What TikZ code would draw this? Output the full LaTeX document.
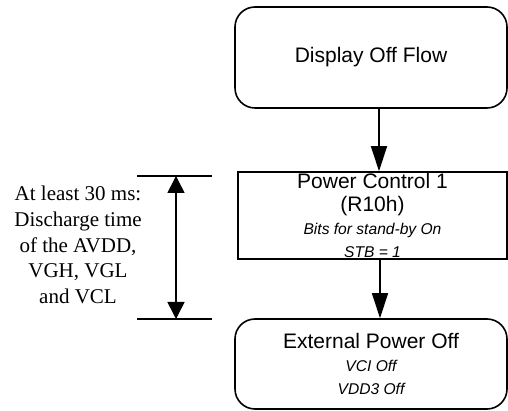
\documentclass[tikz,border=0pt]{standalone}
\usepackage{fontspec}
\setmainfont{Liberation Serif}
\setsansfont{Liberation Sans}
\usetikzlibrary{arrows.meta,positioning}
\tikzset{
  flowtext/.style={font=\sffamily\fontsize{10.5}{11.5}\selectfont},
  endbox/.style={draw,thick,rounded corners=10pt,flowtext,align=center,inner sep=0pt},
  procbox/.style={draw,thick,flowtext,align=center,inner sep=0pt},
  flowarrow/.style={-{Triangle[length=12.5pt,width=8pt]},thick},
  spanarrow/.style={-{Triangle[length=8.5pt,width=8.5pt]},thick},
  dimline/.style={thick},
}
\newcommand{\subline}[1]{{\sffamily\itshape\fontsize{7.8}{10}\selectfont #1}}
\begin{document}
\begin{tikzpicture}[x=0.5pt,y=0.5pt]
  \useasboundingbox (0,0) rectangle (508,411);
  % flow boxes
  \node[endbox,minimum width=136pt,minimum height=50.5pt] (dispoff) at (371,353.5) {Display Off Flow};
  \node[procbox,minimum width=134.5pt,minimum height=43.5pt] (pwrctl) at (372.5,195.5)
    {Power Control 1\\(R10h)\\\subline{Bits for stand-by On}\\\subline{STB = 1}};
  \node[endbox,minimum width=136pt,minimum height=45pt] (extoff) at (371,47)
    {External Power Off\\\subline{VCI Off}\\\subline{VDD3 Off}};
  % arrows
  \draw[flowarrow] (dispoff.south -| 379,0) -- (pwrctl.north -| 379,0);
  \draw[flowarrow] (pwrctl.south -| 380,0) -- (extoff.north -| 380,0);
  % discharge time span
  \coordinate (spanmid) at (176,163);
  \coordinate (spantop) at (176,235);
  \coordinate (spanbot) at (176,92);
  \draw[dimline] (spantop -| 137,0) -- (spantop -| 212,0);
  \draw[dimline] (spanbot -| 137,0) -- (spanbot -| 212,0);
  \draw[spanarrow] (spanmid) -- (spantop);
  \draw[spanarrow] (spanmid) -- (spanbot);
  \node[font=\fontsize{10.5}{12.8}\selectfont,align=center] (discharge) at (78,166)
    {At least 30 ms:\\Discharge time\\of the AVDD,\\VGH, VGL\\and VCL};
\end{tikzpicture}
\end{document}
